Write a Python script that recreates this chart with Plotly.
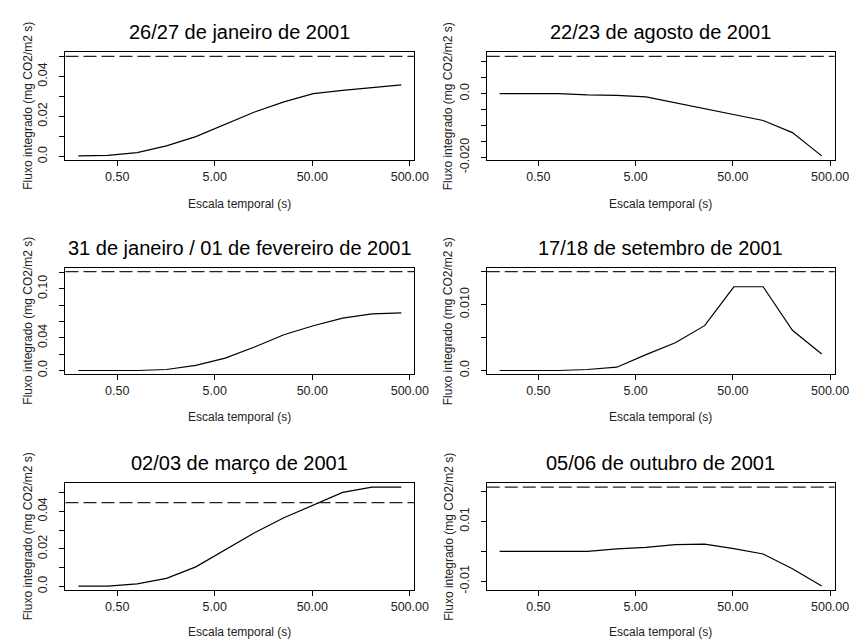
import plotly.graph_objects as go
import math

# ---- data ----
scales = [0.2, 0.4, 0.8, 1.6, 3.2, 6.4, 12.8, 25.6, 51.2, 102.4, 204.8, 409.6]

titles = [
    "26/27 de janeiro de 2001",
    "22/23 de agosto de 2001",
    "31 de janeiro / 01 de fevereiro de 2001",
    "17/18 de setembro de 2001",
    "02/03 de março de 2001",
    "05/06 de outubro de 2001",
]

jan_26_27 = [0.0003, 0.0006, 0.0019, 0.0053, 0.0099, 0.0160, 0.0222, 0.0273, 0.0314, 0.0330, 0.0344, 0.0358]
ago_22_23 = [0.0, 0.0, 0.0, -0.0004, -0.0005, -0.0010, -0.0029, -0.0047, -0.0065, -0.0084, -0.0122, -0.0195]
jan31_fev01 = [0.0, 0.0, 0.0, 0.0012, 0.0062, 0.0152, 0.0288, 0.0438, 0.0548, 0.0640, 0.0692, 0.0704]
set_17_18 = [0.0, 0.0, 0.0, 0.00015, 0.0005, 0.0024, 0.0042, 0.0068, 0.0127, 0.0127, 0.0061, 0.0025]
mar_02_03 = [0.0002, 0.0002, 0.0014, 0.0043, 0.0104, 0.0194, 0.0286, 0.0365, 0.0432, 0.0500, 0.0528, 0.0528]
out_05_06 = [0.0, 0.0, 0.0, 0.0, 0.0008, 0.0013, 0.0022, 0.0024, 0.0009, -0.0009, -0.0058, -0.0116]

series = [jan_26_27, ago_22_23, jan31_fev01, set_17_18, mar_02_03, out_05_06]
ref_levels = [0.05, 0.0117, 0.121, 0.015, 0.0446, 0.0214]

x_tickvals = [0.5, 5, 50, 500]
x_ticktext = ["0.50", "5.00", "50.00", "500.00"]

y_tickvals = [
    [0, 0.01, 0.02, 0.03, 0.04, 0.05],
    [-0.02, -0.015, -0.01, -0.005, 0, 0.005, 0.01],
    [0, 0.02, 0.04, 0.06, 0.08, 0.10, 0.12],
    [0, 0.005, 0.01, 0.015],
    [0, 0.01, 0.02, 0.03, 0.04, 0.05],
    [-0.01, 0, 0.01, 0.02],
]
y_ticktext = [
    ["0.0", "", "0.02", "", "0.04", ""],
    ["-0.020", "", "", "", "0.0", "", ""],
    ["0.0", "", "0.04", "", "", "0.10", ""],
    ["0.0", "", "0.010", ""],
    ["0.0", "", "0.02", "", "0.04", ""],
    ["-0.01", "", "0.01", ""],
]

x_label = "Escala temporal (s)"
y_label = "Fluxo integrado (mg CO2/m2 s)"

# ---- layout geometry (pixels) ----
W, H = 857, 644
col_px = [(58.5, 413.5), (487.3, 841.3)]
row_px = [(45.3, 155.0), (265.0, 374.0), (485.0, 594.0)]
title_y_px = [25, 245, 464]
xlab_y_px = [200, 417, 637]
ylab_x_px = [20, 448]

FONT = "Liberation Sans, Arial, sans-serif"

fig = go.Figure()

lx = [math.log10(s) for s in scales]
span = max(lx) - min(lx)
xrange = [min(lx) - 0.04 * span, max(lx) + 0.04 * span]

annotations = []
shapes = []
for i in range(6):
    r, c = divmod(i, 2)
    ax = "" if i == 0 else str(i + 1)
    vals = series[i]
    lo = min(min(vals), ref_levels[i])
    hi = max(max(vals), ref_levels[i])
    pad = 0.04 * (hi - lo)
    x0, x1 = col_px[c]
    y0, y1 = row_px[r]
    fig.add_trace(go.Scatter(
        x=scales, y=vals, mode="lines",
        line=dict(color="black", width=1.2),
        xaxis="x" + ax, yaxis="y" + ax, showlegend=False, hoverinfo="skip"))
    common = dict(showline=True, mirror=True, linecolor="black", linewidth=1,
                  ticks="outside", ticklen=5, tickcolor="black", tickwidth=1,
                  showgrid=False, zeroline=False,
                  tickfont=dict(family=FONT, size=12.5, color="#222"))
    fig.update_layout(**{
        "xaxis" + ax: dict(type="log", range=xrange,
                           domain=[x0 / W, x1 / W],
                           anchor="y" + ax,
                           tickvals=x_tickvals, ticktext=x_ticktext, **common),
        "yaxis" + ax: dict(range=[lo - pad, hi + pad],
                           domain=[1 - y1 / H, 1 - y0 / H],
                           anchor="x" + ax,
                           tickvals=y_tickvals[i], ticktext=y_ticktext[i],
                           tickangle=-90, ticklabelstandoff=7, **common),
    })
    shapes.append(dict(type="line", xref="x" + ax + " domain", yref="y" + ax,
                       x0=0, x1=1, y0=ref_levels[i], y1=ref_levels[i],
                       line=dict(color="#222", width=1.4, dash="13px,5px")))
    cx = (x0 + x1) / 2 / W
    annotations.append(dict(text=titles[i], x=cx, y=1 - title_y_px[r] / H,
                            xref="paper", yref="paper", showarrow=False,
                            xanchor="center", yanchor="middle",
                            font=dict(family=FONT, size=20, color="black")))
    annotations.append(dict(text=x_label, x=cx, y=1 - xlab_y_px[r] / H,
                            xref="paper", yref="paper", showarrow=False,
                            xanchor="center", yanchor="middle",
                            font=dict(family=FONT, size=12, color="#222")))
    annotations.append(dict(text=y_label, x=ylab_x_px[c] / W,
                            y=1 - (y0 + y1) / 2 / H,
                            xref="paper", yref="paper", showarrow=False,
                            textangle=-90, xanchor="center", yanchor="middle",
                            font=dict(family=FONT, size=12, color="#222")))

fig.update_layout(width=W, height=H, margin=dict(l=0, r=0, t=0, b=0),
                  paper_bgcolor="white", plot_bgcolor="white",
                  annotations=annotations, shapes=shapes,
                  font=dict(family=FONT))

fig.write_html("out.html")
